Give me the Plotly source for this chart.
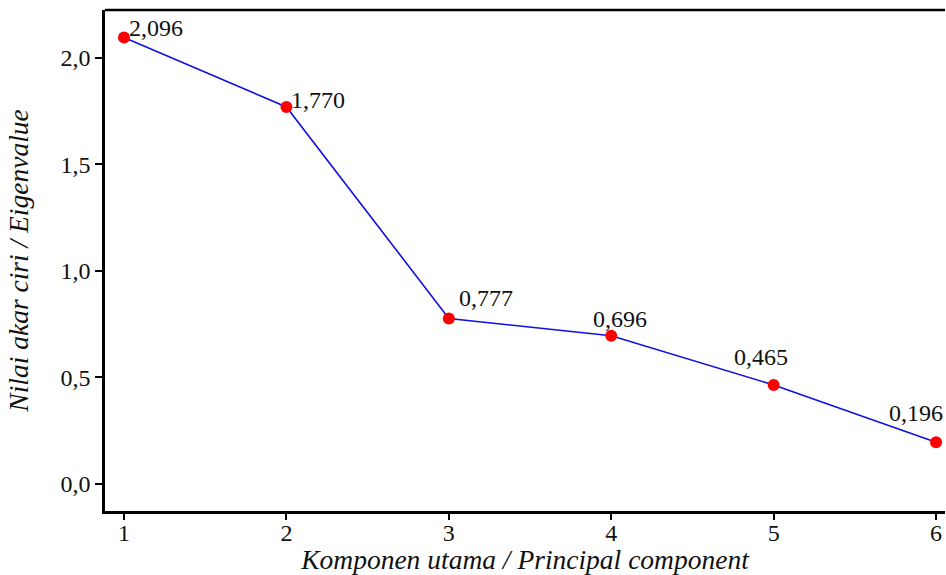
import plotly.graph_objects as go

components = [1, 2, 3, 4, 5, 6]
eigenvalues = [2.096, 1.770, 0.777, 0.696, 0.465, 0.196]
y_ticks = [0.0, 0.5, 1.0, 1.5, 2.0]
y_tick_labels = ["0,0", "0,5", "1,0", "1,5", "2,0"]
x_title = "Komponen utama / Principal component"
y_title = "Nilai akar ciri / Eigenvalue"

# label offsets (px) relative to each point
label_xanchor = ["left", "left", "left", "center", "center", "center"]
label_shift_x = [3, 3, 8, 9, -13, -20]
label_shift_y = [9, 7, 20, 17, 28, 29]

FONT = "Liberation Serif"

fig = go.Figure()
fig.add_trace(go.Scatter(
    x=components, y=eigenvalues, mode="lines+markers",
    line=dict(color="#1010e0", width=1.6),
    marker=dict(color="#ff0000", size=12),
    showlegend=False, hoverinfo="skip",
))

for i, (c, v) in enumerate(zip(components, eigenvalues)):
    fig.add_annotation(
        x=c, y=v, text=f"{v:.3f}".replace(".", ","), showarrow=False,
        xanchor=label_xanchor[i], yanchor="middle",
        xshift=label_shift_x[i], yshift=label_shift_y[i],
        font=dict(family=FONT, size=24, color="#111111"),
    )

fig.update_layout(
    width=946, height=575,
    margin=dict(l=105, r=1, t=10, b=64),
    plot_bgcolor="white", paper_bgcolor="white",
    font=dict(family=FONT, size=24, color="#111111"),
)
fig.update_xaxes(
    range=[0.883, 6.055], tickvals=components,
    ticks="outside", ticklen=6, tickwidth=2, tickcolor="black",
    showline=True, linecolor="black", linewidth=2.5, mirror=False,
    showgrid=False, zeroline=False, tickfont=dict(size=24),
    ticklabelstandoff=-8,
    title=dict(text=x_title, font=dict(family=FONT, size=27.5, style="italic"), standoff=0),
)
fig.update_yaxes(
    range=[-0.127, 2.225], tickvals=y_ticks, ticktext=y_tick_labels,
    ticks="outside", ticklen=7, tickwidth=2, tickcolor="black",
    showline=True, linecolor="black", linewidth=2.5,
    showgrid=False, zeroline=False, tickfont=dict(size=24),
    title=dict(text=y_title, font=dict(family=FONT, size=27.5, style="italic"), standoff=24),
)
# top border
fig.add_shape(type="line", xref="paper", yref="paper", x0=0, x1=1, y0=1, y1=1,
              line=dict(color="black", width=2.5))

fig.write_html("out.html", config={"displayModeBar": False},
               post_script="document.body.style.margin='0';document.body.style.overflow='hidden';")
